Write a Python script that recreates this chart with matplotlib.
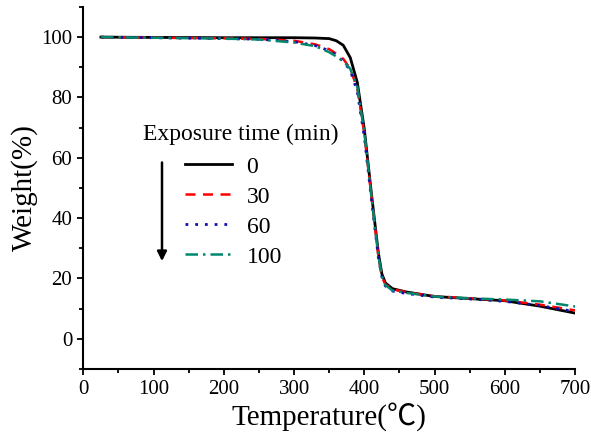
import matplotlib
matplotlib.use('Agg')
from matplotlib import pyplot as plt
from matplotlib.ticker import MultipleLocator

# temperature grid (C) and weight (%)
temp = [25, 100, 200, 250, 300, 330, 350, 360, 370, 380, 390, 400, 410,
        420, 425, 430, 440, 460, 500, 550, 600, 650, 700]
w0 = [100, 99.9, 99.8, 99.8, 99.8, 99.7, 99.5, 98.8, 97.3, 93.2, 85.0, 69.5, 48.4,
      28.5, 21.5, 18.5, 16.6, 15.5, 14.0, 13.3, 12.6, 10.8, 8.5]
w30 = [100, 99.8, 99.6, 99.4, 98.8, 97.6, 96.0, 94.5, 92.8, 89.5, 83.0, 68.0, 47.5,
       27.5, 20.5, 18.0, 16.4, 15.4, 14.1, 13.4, 12.7, 11.3, 9.4]
w60 = [100, 99.8, 99.5, 99.3, 98.5, 97.2, 95.5, 94.0, 92.0, 89.0, 82.0, 67.0, 46.5,
       27.0, 20.5, 17.5, 15.8, 15.0, 13.8, 13.2, 12.4, 11.0, 9.0]
w100 = [100, 99.8, 99.5, 99.2, 98.2, 97.0, 95.0, 93.6, 92.0, 89.5, 83.5, 68.5, 47.5,
        27.5, 20.8, 17.8, 16.0, 15.2, 14.0, 13.4, 13.0, 12.4, 10.7]
labels = ['0', '30', '60', '100']

plt.rcParams['font.family'] = ['Liberation Serif', 'Noto Sans CJK SC']

fig = plt.figure(figsize=(5.91, 4.34), dpi=100)
ax = fig.add_axes([0.141, 0.150, 0.832, 0.834])

ax.plot(temp, w0, color='black', lw=2.0, ls='-', label=labels[0])
ax.plot(temp, w30, color='#ff0000', lw=1.8, ls=(0, (4, 3)), label=labels[1])
ax.plot(temp, w60, color='#1010b0', lw=2.0, ls=(0, (1, 2.5)), label=labels[2])
ax.plot(temp, w100, color='#00876f', lw=1.8, ls=(0, (5, 2, 1, 2)), label=labels[3])

ax.set_xlim(0, 700)
ax.set_ylim(-10, 110)
ax.xaxis.set_major_locator(MultipleLocator(100))
ax.xaxis.set_minor_locator(MultipleLocator(50))
ax.yaxis.set_major_locator(MultipleLocator(20))
ax.yaxis.set_minor_locator(MultipleLocator(10))
ax.spines['top'].set_visible(False)
ax.spines['right'].set_visible(False)
for s in ['left', 'bottom']:
    ax.spines[s].set_linewidth(1.5)
ax.tick_params(which='major', direction='out', length=4.5, width=1.3, labelsize=15)
ax.tick_params(which='minor', direction='out', length=3, width=1.3)

ax.set_xlabel('Temperature(℃)', fontsize=21, labelpad=2)
ax.set_ylabel('Weight(%)', fontsize=21, labelpad=2)

ax.text(0.121, 0.647, 'Exposure time (min)', transform=ax.transAxes,
        fontsize=17, va='center', ha='left')
ax.legend(loc='upper left', bbox_to_anchor=(0.207, 0.588), frameon=False,
          fontsize=17, handlelength=2.0, handletextpad=0.6, labelspacing=0.36,
          borderpad=0, borderaxespad=0)
ax.annotate('', xy=(0.160, 0.290), xytext=(0.160, 0.578), xycoords='axes fraction',
            arrowprops=dict(arrowstyle='-|>', color='black', lw=1.8,
                            mutation_scale=14))

fig.savefig('out.png', dpi=100)
